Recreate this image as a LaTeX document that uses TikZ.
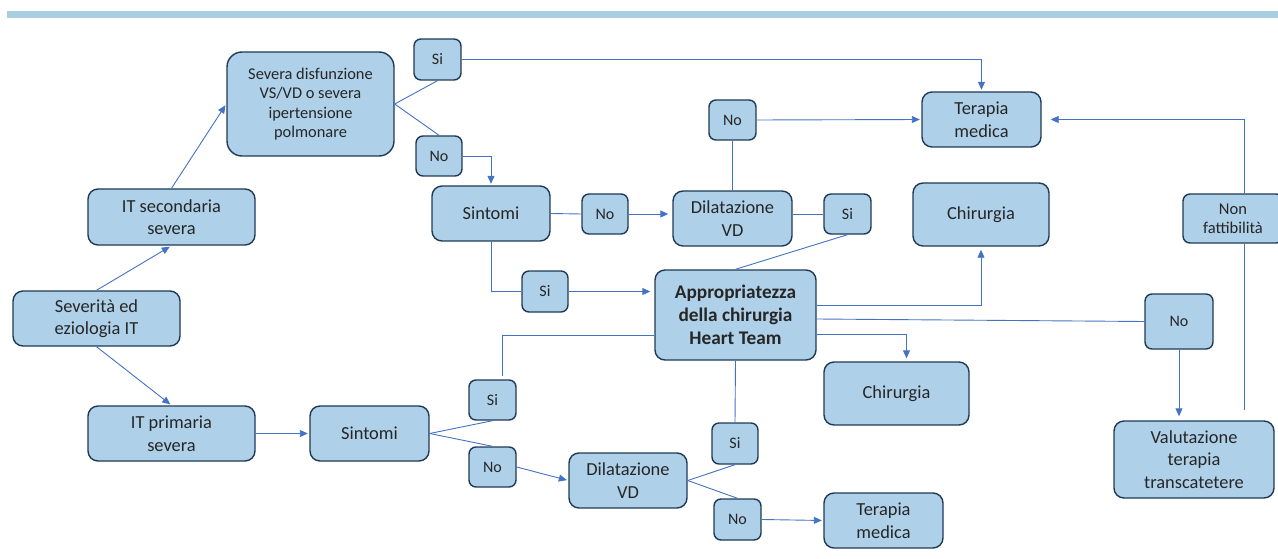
\documentclass[tikz,border=0pt]{standalone}
\usepackage{fontspec}
\setmainfont{Carlito}
\usetikzlibrary{arrows.meta}
\definecolor{boxfill}{HTML}{AED0E8}
\definecolor{boxline}{HTML}{203A56}
\definecolor{linkblue}{HTML}{4472C4}
\definecolor{barblue}{HTML}{A9CEE2}
\definecolor{txt}{HTML}{262626}
\begin{document}
\begin{tikzpicture}[x=1pt,y=-1pt,
    box/.style={draw=boxline,fill=boxfill,line width=1.4pt,rounded corners=10pt,
        text=txt,align=center,inner sep=0pt,font=\fontsize{18.4}{22.5}\selectfont},
    tag/.style={box,rounded corners=7pt,font=\fontsize{16}{19}\selectfont},
    link/.style={draw=linkblue,line width=0.9pt},
    arr/.style={link,-{Triangle[length=8pt,width=7pt]},shorten >=1.5pt}]
    \useasboundingbox (0,0) rectangle (1278,559);

    % Title bar
    \fill[barblue] (7,11) rectangle (1278,18);

    % Left column
    \node[box,minimum width=167,minimum height=55] (sevit) at (96.5,318.5) {Severità ed\\eziologia IT};
    \node[box,minimum width=167,minimum height=56] (itsec) at (171.5,217) {IT secondaria\\severa};
    \node[box,minimum width=167,minimum height=55] (itprim) at (171.5,433.5) {IT primaria\\severa};
    \node[box,rounded corners=15pt,minimum width=167,minimum height=104,
        font=\fontsize{16.4}{19.5}\selectfont] (sev) at (310.5,104)
        {Severa disfunzione\\VS/VD o severa\\ipertensione\\polmonare};

    % Upper branch
    \node[tag,minimum width=47,minimum height=41] (si1) at (437.5,59.5) {Si};
    \node[tag,minimum width=46,minimum height=40] (no1) at (439,156) {No};
    \node[box,minimum width=118,minimum height=55] (sint1) at (491,213.5) {Sintomi};
    \node[tag,minimum width=46,minimum height=40] (no2) at (605,214) {No};
    \node[box,minimum width=119,minimum height=55] (dil1) at (732.5,218.5) {Dilatazione\\VD};
    \node[tag,minimum width=47,minimum height=40] (no3) at (732.5,120) {No};
    \node[tag,minimum width=47,minimum height=40] (si2) at (847.5,214) {Si};
    \node[tag,minimum width=46,minimum height=41] (si3) at (545,291.5) {Si};

    % Heart Team and outcomes
    \node[box,minimum width=161,minimum height=90,font=\fontsize{19.3}{22.8}\selectfont\bfseries]
        (appr) at (735.5,315) {Appropriatezza\\della chirurgia\\Heart Team};
    \node[box,minimum width=119,minimum height=55] (tm1) at (981.5,119.5) {Terapia\\medica};
    \node[box,minimum width=136,minimum height=63] (chir1) at (981,214.5) {Chirurgia};
    \node[box,minimum width=145,minimum height=63] (chir2) at (896.5,393.5) {Chirurgia};
    \node[tag,minimum width=100,minimum height=49,font=\fontsize{16.5}{19}\selectfont]
        (nonf) at (1233,218.5) {Non\\fattibilità};
    \node[tag,minimum width=68,minimum height=55] (no4) at (1179,321.5) {No};
    \node[box,minimum width=160,minimum height=77] (val) at (1194,459.5) {Valutazione\\terapia\\transcatetere};

    % Lower branch
    \node[box,minimum width=119,minimum height=55] (sint2) at (369.5,433.5) {Sintomi};
    \node[tag,minimum width=47,minimum height=40] (si4) at (492.5,400) {Si};
    \node[tag,minimum width=47,minimum height=40] (no5) at (492.5,467) {No};
    \node[box,minimum width=118,minimum height=55] (dil2) at (628,480.5) {Dilatazione\\VD};
    \node[tag,minimum width=46,minimum height=41] (si5) at (735,443.5) {Si};
    \node[tag,minimum width=47,minimum height=41] (no6) at (737.5,519.5) {No};
    \node[box,minimum width=119,minimum height=55] (tm2) at (883.5,520.5) {Terapia\\medica};

    % Connectors, left
    \draw[arr,shorten >=2pt] (sevit.north) -- (itsec.south);
    \draw[arr] (itsec.north) -- (sev.west);
    \draw[arr] (sevit.south) -- (itprim.north);
    \draw[arr] (itprim.east) -- (sint2.west);

    % Connectors, upper branch
    \draw[link] (sev.east) -- (si1.south);
    \draw[link] (sev.east) -- (no1.north);
    \draw[arr] (si1.east) -| (tm1.north);
    \draw[arr] (no1.east) -| (sint1.north);
    \draw[link] (sint1.east) -- (no2.west);
    \draw[arr,shorten >=4pt] (no2.east) -- (no2.east -| dil1.west);
    \draw[link] (dil1.north) -- (no3.south);
    \draw[arr] (no3.east) -- (tm1.west);
    \draw[link] (si2.west -| dil1.east) -- (si2.west);
    \draw[link] (si2.south) -- (appr.north);
    \draw[link] (sint1.south) |- (si3.west);
    \draw[arr,shorten >=4pt] (si3.east) -- (si3.east -| appr.west);

    % Connectors, Heart Team
    \draw[arr,shorten >=3pt] ([yshift=10pt]appr.east) -| (chir1.south);
    \draw[link] ([yshift=-4pt]appr.east) -- (no4.west);
    \draw[arr,shorten >=4pt] (no4.south) -- (no4.south |- val.north);
    \coordinate (ret) at (1244,410);
    \draw[link] (ret) -- (ret |- nonf.south);
    \draw[arr,shorten >=9pt] (ret |- nonf.north) |- (tm1.east);
    \draw[arr,shorten >=3pt] ([yshift=-19pt]appr.east) -| ([xshift=10pt]chir2.north);
    \draw[link,shorten >=3pt] ([yshift=-20pt]appr.west) -| ([xshift=9.5pt]si4.north);
    \draw[link] (appr.south) -- (si5.north);

    % Connectors, lower branch
    \draw[link] (sint2.east) -- (si4.south);
    \draw[link] (sint2.east) -- (no5.north);
    \draw[arr] (no5.east) -- (dil2.west);
    \draw[link] (dil2.east) -- (si5.south);
    \draw[link] (dil2.east) -- (no6.north);
    \draw[arr] (no6.east) -- (tm2.west);
\end{tikzpicture}
\end{document}
